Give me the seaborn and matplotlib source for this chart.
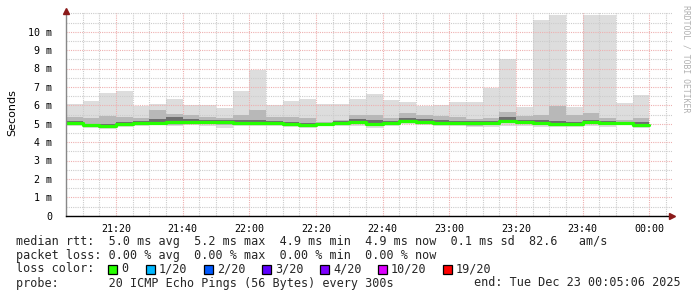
import matplotlib
matplotlib.use("Agg")
import matplotlib.pyplot as plt
from matplotlib.patches import Rectangle
from matplotlib.ticker import MultipleLocator, FixedLocator
import seaborn as sns
import pandas as pd

# ---- data (5-minute bins starting 21:05, minutes after 21:00) ----
bin_start_min = [5, 10, 15, 20, 25, 30, 35, 40, 45, 50, 55, 60, 65, 70, 75, 80, 85, 90,
                 95, 100, 105, 110, 115, 120, 125, 130, 135, 140, 145, 150, 155, 160,
                 165, 170, 175]
ping_max = [6.07, 6.23, 6.67, 6.78, 5.98, 6.07, 6.34, 5.99, 5.99, 5.85, 6.78, 7.92, 5.99,
            6.23, 6.34, 6.05, 6.05, 6.34, 6.61, 6.29, 6.18, 5.98, 5.99, 6.18, 6.18, 6.96,
            8.52, 5.92, 10.64, 10.93, 5.92, 10.93, 10.93, 6.12, 6.56]
ping_p90 = [5.35, 5.30, 5.40, 5.35, 5.30, 5.75, 5.55, 5.50, 5.35, 5.30, 5.45, 5.75, 5.35,
            5.35, 5.30, 5.10, 5.20, 5.50, 5.45, 5.30, 5.60, 5.50, 5.40, 5.35, 5.25, 5.30,
            5.65, 5.40, 5.50, 5.95, 5.45, 5.60, 5.30, 5.20, 5.30]
ping_p75 = [5.16, 5.01, 5.00, 5.08, 5.14, 5.26, 5.34, 5.24, 5.19, 5.19, 5.21, 5.22, 5.14,
            5.10, 5.05, 5.01, 5.14, 5.24, 5.18, 5.16, 5.32, 5.24, 5.18, 5.16, 5.12, 5.16,
            5.37, 5.19, 5.19, 5.17, 5.10, 5.22, 5.12, 5.11, 5.07]
median = [5.06, 4.93, 4.88, 4.98, 5.02, 5.06, 5.09, 5.09, 5.09, 5.09, 5.06, 5.02, 5.06,
          4.98, 4.95, 4.98, 5.06, 5.09, 4.98, 5.06, 5.17, 5.09, 5.06, 5.06, 5.02, 5.06,
          5.17, 5.09, 5.04, 4.97, 4.98, 5.07, 5.02, 5.06, 4.95]
ping_p25 = [5.00, 4.87, 4.82, 4.92, 4.97, 5.00, 4.98, 5.03, 5.02, 5.02, 5.00, 4.96, 5.01,
            4.92, 4.89, 4.93, 5.00, 5.03, 4.90, 5.00, 5.11, 5.04, 5.00, 5.00, 4.96, 4.98,
            5.08, 5.03, 4.98, 4.91, 4.92, 5.01, 4.96, 5.01, 4.89]
ping_p10 = [4.95, 4.82, 4.77, 4.87, 4.93, 4.96, 4.92, 4.98, 4.96, 4.94, 4.95, 4.92, 4.96,
            4.87, 4.83, 4.89, 4.95, 4.97, 4.85, 4.95, 5.06, 4.99, 4.95, 4.95, 4.90, 4.92,
            5.02, 4.98, 4.92, 4.86, 4.88, 4.96, 4.91, 4.97, 4.84]
ping_min = [4.88, 4.76, 4.72, 4.80, 4.88, 4.92, 4.85, 4.92, 4.85, 4.78, 4.87, 4.88, 4.90,
            4.80, 4.74, 4.85, 4.87, 4.88, 4.78, 4.87, 5.00, 4.95, 4.88, 4.88, 4.80, 4.80,
            4.90, 4.90, 4.82, 4.80, 4.82, 4.88, 4.83, 4.92, 4.78]
bin_width_min = 5

x_tick_pos = [20, 40, 60, 80, 100, 120, 140, 160, 180]
x_tick_labels = ["21:20", "21:40", "22:00", "22:20", "22:40", "23:00", "23:20", "23:40", "00:00"]
y_tick_pos = [0, 1, 2, 3, 4, 5, 6, 7, 8, 9, 10]
y_tick_labels = ["0", "1 m", "2 m", "3 m", "4 m", "5 m", "6 m", "7 m", "8 m", "9 m", "10 m"]

legend_lines = [
    "median rtt:  5.0 ms avg  5.2 ms max  4.9 ms min  4.9 ms now  0.1 ms sd  82.6   am/s",
    "packet loss: 0.00 % avg  0.00 % max  0.00 % min  0.00 % now",
]
loss_labels = ["0", "1/20", "2/20", "3/20", "4/20", "10/20", "19/20"]
loss_colors = ["#26ff00", "#00b8ff", "#0059ff", "#5e00ff", "#7e00ff", "#dd00ff", "#ff0000"]
probe_text = "probe:       20 ICMP Echo Pings (56 Bytes) every 300s"
end_text = "end: Tue Dec 23 00:05:06 2025"

# ---- figure ----
sns.set_style("white")
plt.rcParams["font.family"] = ["DejaVu Sans Mono", "DejaVu Sans"]

W, H = 697, 297
fig = plt.figure(figsize=(W / 100, H / 100), dpi=100)
fig.patch.set_facecolor("white")
x0, x1, ytop, ybot = 66, 672, 12, 215.7
ax = fig.add_axes([x0 / W, (H - ybot) / H, (x1 - x0) / W, (ybot - ytop) / H])
px_per_ms = 18.4
px_per_min = 66.67 / 20
ax.set_xlim(5, 5 + (x1 - x0) / px_per_min)
ax.set_ylim(0, (ybot - ytop) / px_per_ms)

def ext(a):
    return list(a) + [a[-1]]

edges = list(bin_start_min) + [bin_start_min[-1] + bin_width_min]
ax.fill_between(edges, ext(ping_min), ext(ping_max), step="post", color="#dddddd", lw=0, zorder=2)
ax.fill_between(edges, ext(ping_p10), ext(ping_p90), step="post", color="#b8b8b8", lw=0, zorder=3)
ax.fill_between(edges, ext(ping_p25), ext(ping_p75), step="post", color="#6e6e6e", lw=0, zorder=4)

df = pd.DataFrame({"t": edges, "median": ext(median)})
sns.lineplot(data=df, x="t", y="median", drawstyle="steps-post", color=loss_colors[0],
             linewidth=2.3, estimator=None, ax=ax, zorder=6)

# grid
ax.xaxis.set_minor_locator(MultipleLocator(5))
ax.yaxis.set_minor_locator(MultipleLocator(0.5))
ax.xaxis.set_major_locator(FixedLocator(x_tick_pos))
ax.yaxis.set_major_locator(FixedLocator(y_tick_pos))
ax.set_xticklabels(x_tick_labels)
ax.set_yticklabels(y_tick_labels)
ax.grid(which="minor", color="#cccccc", linestyle=(0, (1, 1)), linewidth=0.8, zorder=7)
ax.grid(which="major", color="#eeb0b0", linestyle=(0, (1, 1)), linewidth=0.8, zorder=7)
ax.set_axisbelow(False)

ax.tick_params(axis="both", which="both", labelsize=7.2, length=2, width=0.7, color="#888888",
               pad=2, labelcolor="black")
ax.tick_params(axis="x", which="minor", length=0)
ax.tick_params(axis="y", which="minor", length=1.5)
ax.tick_params(axis="x", pad=4)
ax.tick_params(axis="y", pad=8)
for lab in ax.get_yticklabels():
    lab.set_horizontalalignment("right")
ax.set_xlabel("")
ax.set_ylabel("")
for s in ["top", "right"]:
    ax.spines[s].set_visible(False)
ax.spines["left"].set_color("#888888")
ax.spines["left"].set_linewidth(1)
ax.spines["bottom"].set_color("black")
ax.spines["bottom"].set_linewidth(1)
ax.spines["left"].set_zorder(8)
ax.spines["bottom"].set_zorder(8)

# arrows
ax.plot([0], [1.005], marker="^", color="#8b1a1a", markersize=4, transform=ax.transAxes,
        clip_on=False, zorder=9)
ax.plot([1.0], [0], marker=">", color="#8b1a1a", markersize=4, transform=ax.transAxes,
        clip_on=False, zorder=9)

def fx(px):
    return px / W

def fy(py):
    return 1 - py / H

fig.text(fx(12), fy(113), "Seconds", rotation=90, ha="center", va="center",
         fontsize=8, family="DejaVu Sans", color="black")
fig.text(fx(686), fy(5), "RRDTOOL / TOBI OETIKER", rotation=270, ha="center", va="top",
         fontsize=5.9, color="#b0b0b0")

fs = 8.5
fig.text(fx(16), fy(241), legend_lines[0], ha="left", va="center", fontsize=fs)
fig.text(fx(16), fy(255), legend_lines[1], ha="left", va="center", fontsize=fs)
fig.text(fx(16), fy(269), "loss color:", ha="left", va="center", fontsize=fs)
box_x = [108, 146, 204, 262, 320, 378, 443]
for bx, lab, c in zip(box_x, loss_labels, loss_colors):
    fig.patches.append(Rectangle((fx(bx), fy(273.5)), 9 / W, 9 / H, transform=fig.transFigure,
                                 facecolor=c, edgecolor="black", linewidth=0.9))
    fig.text(fx(bx + 13), fy(269), lab, ha="left", va="center", fontsize=fs)
fig.text(fx(16), fy(283), probe_text, ha="left", va="center", fontsize=fs)
fig.text(fx(681), fy(283), end_text, ha="right", va="center", fontsize=fs)

fig.savefig("out.png", dpi=100, facecolor="white")
